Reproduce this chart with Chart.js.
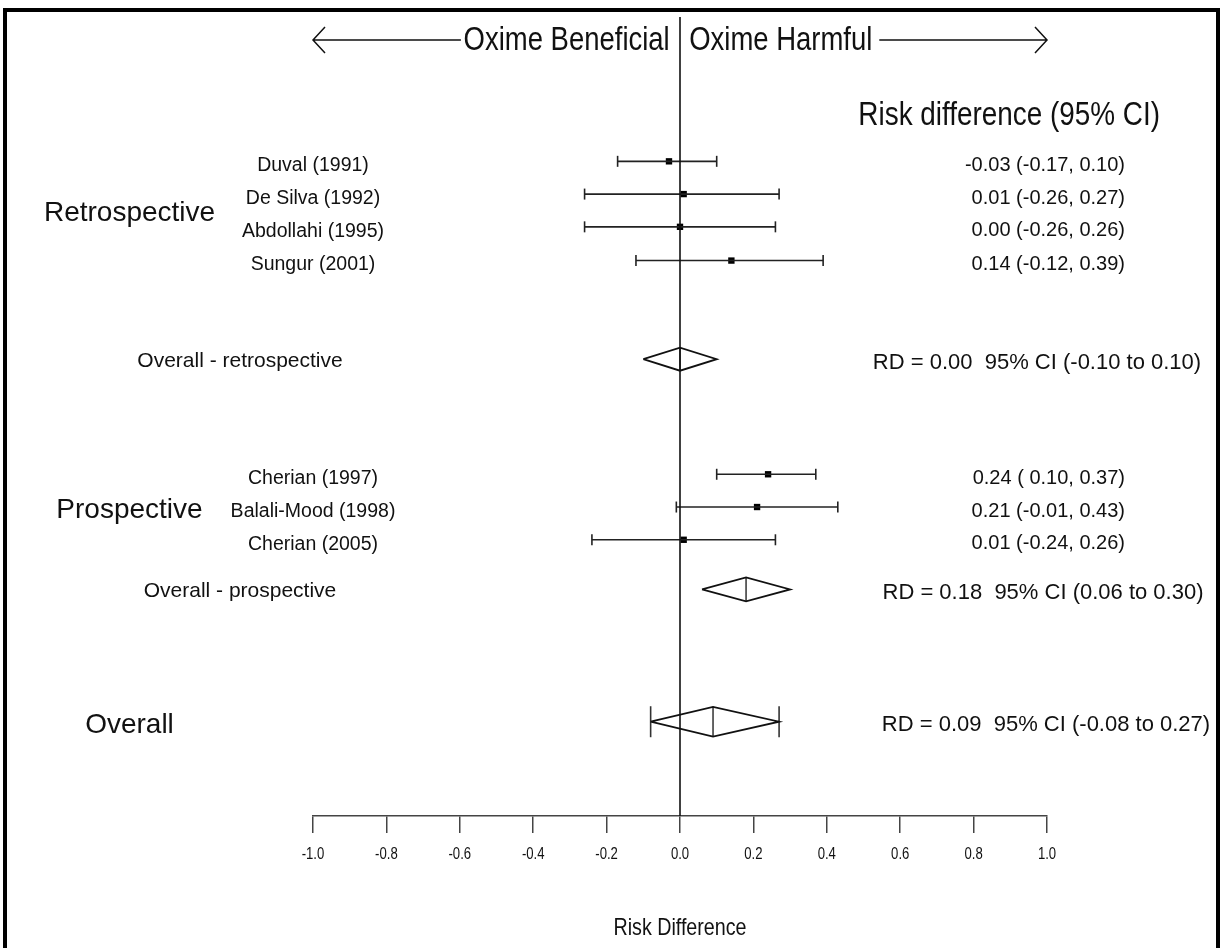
<!DOCTYPE html>
<html><head><meta charset="utf-8">
<script src="https://cdn.jsdelivr.net/npm/chart.js@4.4.0/dist/chart.umd.min.js"></script>
<style>
html,body{margin:0;padding:0;background:#fff;}
#wrap{position:relative;width:1226px;height:948px;overflow:hidden;background:#fff;}
#frame{position:absolute;left:3px;top:8px;width:1217px;height:980px;border:4px solid #000;box-sizing:border-box;pointer-events:none;}
canvas{position:absolute;left:0;top:0;}
</style></head>
<body><div id="wrap"><canvas id="c" width="1226" height="948"></canvas><div id="frame"></div></div>
<script>
// ---------------- DATA ----------------
const studies = ['Duval (1991)', 'De Silva (1992)', 'Abdollahi (1995)', 'Sungur (2001)',
                 'Cherian (1997)', 'Balali-Mood (1998)', 'Cherian (2005)'];
const estimates = [-0.03, 0.01, 0.00, 0.14, 0.24, 0.21, 0.01];
const lowerCI   = [-0.17, -0.26, -0.26, -0.12, 0.10, -0.01, -0.24];
const upperCI   = [0.10, 0.27, 0.26, 0.39, 0.37, 0.43, 0.26];
const studyText = ['-0.03 (-0.17, 0.10)', '0.01 (-0.26, 0.27)', '0.00 (-0.26, 0.26)', '0.14 (-0.12, 0.39)',
                   '0.24 ( 0.10, 0.37)', '0.21 (-0.01, 0.43)', '0.01 (-0.24, 0.26)'];
const groupLabels = ['Retrospective', 'Prospective', 'Overall'];
const pooledLabels = ['Overall - retrospective', 'Overall - prospective'];
const pooledEst   = [0.00, 0.18, 0.09];
const pooledLower = [-0.10, 0.06, -0.08];
const pooledUpper = [0.10, 0.30, 0.27];
const pooledText  = ['RD = 0.00  95% CI (-0.10 to 0.10)', 'RD = 0.18  95% CI (0.06 to 0.30)', 'RD = 0.09  95% CI (-0.08 to 0.27)'];
const xTicks = [-1.0, -0.8, -0.6, -0.4, -0.2, 0.0, 0.2, 0.4, 0.6, 0.8, 1.0];
const xTickLabels = ['-1.0', '-0.8', '-0.6', '-0.4', '-0.2', '0.0', '0.2', '0.4', '0.6', '0.8', '1.0'];
const headerText = 'Risk difference (95% CI)';
const leftDir = 'Oxime Beneficial';
const rightDir = 'Oxime Harmful';
const xTitle = 'Risk Difference';

// ---------------- LAYOUT (row positions in y-units, 0 = axis) ----------------
const Y_MAX = 24.15;
const studyRow  = [19.79, 18.80, 17.81, 16.79, 10.33, 9.34, 8.35];
const pooledRow = [13.81, 6.85, 2.85];
const pooledHalf = [0.35, 0.36, 0.45];   // diamond half-height in y-units
const groupRow = [18.22, 9.24, 2.75];
const pooledTextX = [1037, 1043, 1046];
const REG = "'Liberation Sans', Arial, sans-serif";
const NARROW_SCALE = 0.82;

// ---------------- DATASETS ----------------
const datasets = [];
datasets.push({type:'line', data:[{x:0,y:0},{x:0,y:Y_MAX}], borderColor:'#111', borderWidth:1.6, pointRadius:0});
studies.forEach((s,i)=>{
  datasets.push({type:'line', data:[{x:lowerCI[i],y:studyRow[i]},{x:upperCI[i],y:studyRow[i]}],
    borderColor:'#222', borderWidth:1.6, pointStyle:'line', rotation:90, pointRadius:5.5,
    pointBorderColor:'#222', pointBorderWidth:1.6});
});
datasets.push({type:'scatter', data:studies.map((s,i)=>({x:estimates[i], y:studyRow[i]})),
  pointStyle:'rect', pointRadius:4.5, backgroundColor:'#000', borderColor:'#000', borderWidth:0});
pooledEst.forEach((e,i)=>{
  const y=pooledRow[i], h=pooledHalf[i];
  datasets.push({type:'line', data:[{x:pooledLower[i],y},{x:e,y:y+h},{x:pooledUpper[i],y},{x:e,y:y-h},{x:pooledLower[i],y}],
    borderColor:'#111', borderWidth:1.8, pointRadius:0, fill:false, tension:0});
  datasets.push({type:'line', data:[{x:e,y:y+h},{x:e,y:y-h}], borderColor:'#333', borderWidth:1.5, pointRadius:0});
});
datasets.push({type:'scatter', data:[{x:pooledLower[2],y:pooledRow[2]},{x:pooledUpper[2],y:pooledRow[2]}],
  pointStyle:'line', rotation:90, pointRadius:15.5, borderColor:'#333', pointBorderWidth:1.6, backgroundColor:'#333'});

// ---------------- TEXT / ARROW PLUGIN ----------------
function narrowText(ctx, txt, x, y, size, align){
  ctx.save();
  ctx.font = size + "px " + REG;
  ctx.textAlign = align;
  ctx.translate(x, y);
  ctx.scale(NARROW_SCALE, 1);
  ctx.fillText(txt, 0, 0);
  ctx.restore();
}
const annot = {
  id:'annot',
  afterDraw(chart){
    const ctx = chart.ctx, xs = chart.scales.x, ys = chart.scales.y;
    const X = v=>xs.getPixelForValue(v), Y = v=>ys.getPixelForValue(v);
    const axisY = chart.chartArea.bottom;
    ctx.save();
    ctx.fillStyle = '#111';
    ctx.textBaseline = 'middle';
    ctx.font = "19.5px " + REG; ctx.textAlign='center';
    studies.forEach((s,i)=>ctx.fillText(s, 313, Y(studyRow[i])+4.5));
    ctx.font = "20px " + REG; ctx.textAlign='right';
    studyText.forEach((s,i)=>ctx.fillText(s, 1125, Y(studyRow[i])+4));
    ctx.font = "21px " + REG; ctx.textAlign='center';
    pooledLabels.forEach((s,i)=>ctx.fillText(s, 240, Y(pooledRow[i])+2));
    ctx.font = "22px " + REG; ctx.textAlign='center';
    pooledText.forEach((s,i)=>ctx.fillText(s, pooledTextX[i], Y(pooledRow[i])+3.5));
    ctx.font = "28px " + REG; ctx.textAlign='center';
    groupLabels.forEach((s,i)=>ctx.fillText(s, 129.5, Y(groupRow[i])));
    // header
    narrowText(ctx, headerText, 1160, 116, 34, 'right');
    // direction labels
    const ty = 41;
    narrowText(ctx, leftDir, X(-0.028), ty, 33.5, 'right');
    narrowText(ctx, rightDir, X(0.025), ty, 33.5, 'left');
    // x tick labels and title
    xTicks.forEach((v,i)=>narrowText(ctx, xTickLabels[i], X(v), axisY + 17 + 22, 16, 'center'));
    narrowText(ctx, xTitle, X(0), 928, 24, 'center');
    // arrows
    ctx.strokeStyle = '#111'; ctx.lineWidth = 1.5;
    const ay = ty - 1;
    ctx.beginPath();
    ctx.moveTo(X(-1.0), ay); ctx.lineTo(X(-0.597), ay);
    ctx.moveTo(X(-1.0)+12, ay-13); ctx.lineTo(X(-1.0), ay); ctx.lineTo(X(-1.0)+12, ay+13);
    ctx.moveTo(X(0.543), ay); ctx.lineTo(X(1.0), ay);
    ctx.moveTo(X(1.0)-12, ay-13); ctx.lineTo(X(1.0), ay); ctx.lineTo(X(1.0)-12, ay+13);
    ctx.stroke();
    ctx.restore();
  }
};

new Chart(document.getElementById('c'), {
  type:'scatter',
  data:{datasets},
  options:{
    responsive:false, animation:false, events:[],
    layout:{padding:{left:313, right:179, top:12, bottom:115}},
    plugins:{legend:{display:false}, tooltip:{enabled:false}},
    scales:{
      x:{type:'linear', min:-1, max:1,
        afterBuildTicks:s=>{ s.ticks = xTicks.map(v=>({value:v})); },
        ticks:{display:false},
        grid:{drawOnChartArea:false, drawTicks:true, tickLength:17, color:'#444', lineWidth:1.5},
        border:{display:true, color:'#444', width:1.5},
        title:{display:false}
      },
      y:{type:'linear', min:0, max:Y_MAX, display:false}
    }
  },
  plugins:[annot]
});
</script>
</body></html>
